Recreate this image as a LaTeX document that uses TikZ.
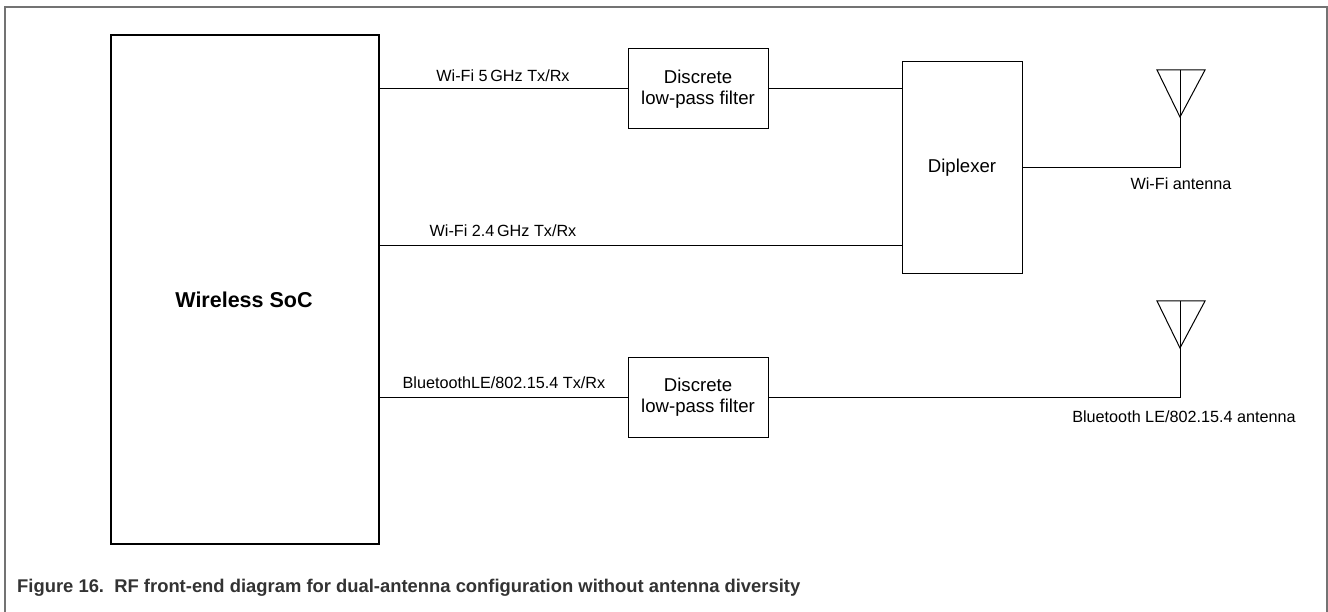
\documentclass[tikz,border=0pt]{standalone}
\usepackage{fontspec}
\setmainfont{Liberation Sans}
\begin{document}
\begin{tikzpicture}[x=1pt,y=-1pt,
  blockbox/.style={draw=black, line width=1pt, align=center, inner sep=0pt,
    font=\fontsize{18.6}{21.5}\selectfont},
  lbl/.style={inner sep=0pt, font=\fontsize{16.2}{19}\selectfont},
  wire/.style={line width=1pt},
  frameline/.style={draw=black!55, line width=1.5pt}]
\useasboundingbox (0,0) rectangle (1328,612);
\fill[white] (0,0) rectangle (1328,612);
% frame
\draw[frameline] (5,612) -- (5,7) -- (1327,7) -- (1327,612);
% blocks
\node[blockbox, line width=2pt, minimum width=268pt, minimum height=509pt] (soc) at (245,289.5) {};
\node[font=\bfseries\fontsize{21.5}{24}\selectfont] (soclbl) at (244,300) {Wireless SoC};
\node[blockbox, minimum width=140pt, minimum height=80pt] (f1) at (698,89) {Discrete\\low-pass filter};
\node[blockbox, minimum width=120pt, minimum height=212pt] (dip) at (962,168) {Diplexer};
\node[blockbox, minimum width=140pt, minimum height=80pt] (f2) at (698,397) {Discrete\\low-pass filter};
% antennas
\coordinate (wa) at (1180,117);
\coordinate (wt) at (1180,70);
\coordinate (wl) at (1157,70);
\coordinate (wr) at (1205,70);
\coordinate (ba) at (1180,348);
\coordinate (bt) at (1180,301);
\coordinate (bl) at (1157,301);
\coordinate (br) at (1205,301);
\draw[wire, line join=miter] (wl) -- (wr) -- (wa) -- cycle;
\draw[wire] (wt) -- (wa);
\draw[wire, line join=miter] (bl) -- (br) -- (ba) -- cycle;
\draw[wire] (bt) -- (ba);
% connectors
\coordinate (d24) at (902,246);
\draw[wire] (soc.east |- f1.west) -- (f1.west);
\draw[wire] (f1.east) -- (dip.west |- f1.east);
\draw[wire] (soc.east |- d24) -- (d24);
\draw[wire] (dip.east) -| (wa);
\draw[wire] (soc.east |- f2.west) -- (f2.west);
\draw[wire] (f2.east) -| (ba);
% labels
\node[lbl] (l5) at (503,76) {Wi-Fi 5\,GHz Tx/Rx};
\node[lbl] (l24) at (503,231) {Wi-Fi 2.4\,GHz Tx/Rx};
\node[lbl] (lbt) at (504,383) {BluetoothLE/802.15.4 Tx/Rx};
\node[lbl] (lwa) at (1181,184) {Wi-Fi antenna};
\node[lbl] (lba) at (1184,417) {Bluetooth LE/802.15.4 antenna};
% caption
\node[anchor=west, inner sep=0pt, text=black!80, font=\bfseries\fontsize{18.4}{21}\selectfont] (cap) at (17,588)
  {Figure 16.\ \ RF front-end diagram for dual-antenna configuration without antenna diversity};
\end{tikzpicture}
\end{document}
